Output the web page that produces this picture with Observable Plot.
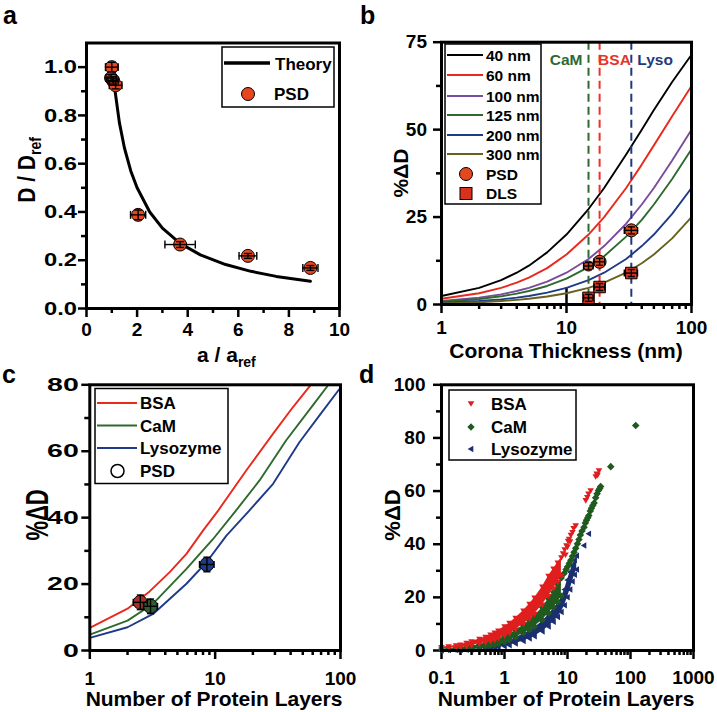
<!DOCTYPE html>
<html><head><meta charset="utf-8">
<script src="https://cdn.jsdelivr.net/npm/d3@7"></script>
<script src="https://cdn.jsdelivr.net/npm/@observablehq/plot@0.6"></script>
<style>
body{margin:0;background:#fff;}
#fig{position:relative;width:717px;height:712px;}
#fig svg{position:absolute;left:0;top:0;}
</style></head><body><div id="fig"></div>
<script>
// ---------- Panel a ----------
const aPsdX = [1.0, 0.97, 1.05, 1.15, 2.04, 3.70, 6.38, 8.85];
const aPsdY = [1.0, 0.955, 0.945, 0.925, 0.388, 0.265, 0.218, 0.168];
const aPsdXErr = [0.25, 0.2, 0.2, 0.25, 0.3, 0.6, 0.35, 0.3];
const aPsdYErr = [0.02, 0.015, 0.015, 0.015, 0.02, 0.012, 0.01, 0.01];
const aTheoryX = [1.13, 1.3, 1.5, 1.75, 2.0, 2.5, 3.0, 3.7, 4.5, 5.5, 6.5, 7.5, 8.85];
const aTheoryY = [0.90, 0.77, 0.665, 0.57, 0.50, 0.40, 0.333, 0.27, 0.222, 0.182, 0.154, 0.133, 0.113];

// ---------- Panel b ----------
const bThick = [1, 2, 3, 4, 5, 7, 10, 15, 20, 30, 40, 50, 70, 100];
const bSizes = ["40 nm", "60 nm", "100 nm", "125 nm", "200 nm", "300 nm"];
const b40  = [2.44, 4.76, 6.98, 9.09, 11.1, 14.9, 20.0, 27.3, 33.3, 42.9, 50.0, 55.6, 63.6, 71.4];
const b60  = [1.64, 3.23, 4.76, 6.25, 7.69, 10.4, 14.3, 20.0, 25.0, 33.3, 40.0, 45.5, 53.8, 62.5];
const b100 = [0.99, 1.96, 2.91, 3.85, 4.76, 6.54, 9.09, 13.0, 16.7, 23.1, 28.6, 33.3, 41.2, 50.0];
const b125 = [0.79, 1.57, 2.34, 3.10, 3.85, 5.30, 7.41, 10.7, 13.8, 19.4, 24.2, 28.6, 35.9, 44.4];
const b200 = [0.50, 0.99, 1.48, 1.96, 2.44, 3.38, 4.76, 6.98, 9.09, 13.0, 16.7, 20.0, 25.9, 33.3];
const b300 = [0.33, 0.66, 0.99, 1.32, 1.64, 2.28, 3.23, 4.76, 6.25, 9.09, 11.8, 14.3, 18.9, 25.0];
const bColors = ["#000000", "#e8291c", "#7b4b9e", "#2e6a2e", "#1f3a88", "#67611f"];
const bPsdX = [15, 18.4, 33];
const bPsdY = [11.0, 12.2, 21.2];
const bPsdXErr = [1.3, 1.8, 4.0];
const bDlsX = [15, 18.4, 33];
const bDlsY = [1.9, 5.0, 9.0];
const bDlsXErr = [1.3, 1.8, 4.0];
const bProteinNames = ["CaM", "BSA", "Lyso"];
const bProteinX = [15, 18.4, 33];
const bProteinColors = ["#2e6a2e", "#e8322a", "#1f3a7a"];

// ---------- Panel c ----------
const cNames = ["BSA", "CaM", "Lysozyme"];
const cColors = ["#e8291c", "#2e6a2e", "#1f3a88"];
const cBsaX  = [1, 2, 3, 4.34, 5.9, 8, 10.6, 17.7, 29, 41.8, 57.5];
const cBsaY  = [6.8, 12.6, 17.8, 23.6, 29.1, 36.1, 42.2, 54.2, 65.3, 73.3, 79.8];
const cCamX  = [1, 2, 3.2, 5.9, 9.6, 14.7, 22.6, 36.9, 60.1, 79.3];
const cCamY  = [4.8, 9.0, 14.1, 24.6, 33.5, 42.2, 51.2, 63.3, 73.8, 79.8];
const cLysoX = [1, 2, 3.2, 5.9, 8.5, 12.3, 18.8, 29, 47, 68, 98.4];
const cLysoY = [3.8, 7.0, 11.0, 20.1, 26.5, 34.6, 42.2, 50.2, 62.7, 70.8, 78.8];
const cPsdX = [2.53, 3.05, 8.6];
const cPsdY = [14.5, 13.3, 25.9];
const cPsdXLo = [2.22, 2.68, 7.5];
const cPsdXHi = [2.88, 3.47, 9.8];
const cPsdYErr = [2.2, 2.2, 2.2];
const cPsdColors = ["#a8302a", "#2e5e2e", "#1f3c8a"];

// ---------- Panel d ----------
const dNames = ["BSA", "CaM", "Lysozyme"];
const dColors = ["#e01e1e", "#1f5a1f", "#1b2f70"];
const dX       = [0.1, 0.13, 0.17, 0.2, 0.25, 0.3, 0.4, 0.5, 0.6, 0.7, 0.8, 1, 1.2, 1.5, 2, 2.5, 3, 4, 5, 6, 7, 8];
const dBsaTop  = [1.2, 1.5, 1.9, 2.2, 2.8, 3.4, 4.3, 5.1, 5.9, 6.7, 7.4, 9.0, 10.3, 12.2, 15.0, 17.5, 19.8, 24.0, 28.0, 30.8, 33.0, 35.0];
const dBsaBot  = [0.6, 0.8, 1.0, 1.2, 1.5, 1.9, 2.5, 3.0, 3.5, 4.0, 4.5, 5.6, 6.5, 7.9, 10.0, 11.9, 13.7, 17.2, 20.5, 23.3, 25.8, 28.0];
const dCamTop  = [0.5, 0.7, 0.9, 1.0, 1.3, 1.7, 2.2, 2.7, 3.2, 3.6, 4.1, 5.2, 6.0, 7.5, 9.5, 11.2, 12.9, 16.2, 19.5, 22.0, 24.8, 27.3];
const dCamBot  = [0.3, 0.4, 0.5, 0.6, 0.7, 0.9, 1.3, 1.6, 1.9, 2.2, 2.6, 3.3, 4.0, 5.0, 6.5, 7.7, 9.0, 11.5, 14.0, 16.2, 18.2, 20.5];
const dLysoX   = [0.1, 0.13, 0.17, 0.2, 0.25, 0.3, 0.4, 0.5, 0.6, 0.7, 0.8, 1, 1.2, 1.5, 2, 2.5, 3, 4, 5, 6, 7, 8, 9, 10, 11, 12, 13, 14];
const dLysoTop = [0.3, 0.4, 0.5, 0.6, 0.7, 0.9, 1.2, 1.5, 1.8, 2.1, 2.5, 3.2, 3.8, 4.8, 6.2, 7.4, 8.6, 11.0, 13.5, 15.7, 17.7, 20.0, 23.0, 26.5, 29.5, 32.0, 34.0, 35.7];
const dLysoBot = [0.1, 0.15, 0.2, 0.25, 0.3, 0.4, 0.55, 0.7, 0.85, 1.0, 1.2, 1.6, 2.0, 2.6, 3.6, 4.5, 5.4, 7.2, 9.0, 10.8, 12.6, 14.5, 17.0, 20.0, 23.0, 26.0, 28.5, 30.5];
const dBsaOutX = [8.5, 9, 9.3, 9.6, 10, 10.2, 10.6, 11, 11.3, 12, 12.5, 13.5, 19.5, 20.6, 21.5, 23.3, 28, 29, 30, 31.6];
const dBsaOutY = [36.5, 38, 36, 39.5, 39, 41.2, 42, 41, 43.5, 44.5, 46, 47, 56.5, 57.7, 59, 60.2, 65.5, 66.5, 66, 67.7];
const dCamChainX = [8.8, 9.5, 10, 10.7, 11.3, 12, 12.7, 13.5, 14.4, 15.2, 16, 17, 18.3, 19.2, 20, 21, 21.8, 23, 24, 25.2, 26.5, 28, 29.5, 31, 32.5, 33.6, 48.6, 121];
const dCamChainY = [29, 30.5, 31.5, 32.8, 34, 35.5, 37, 38.5, 40.2, 41.8, 43.5, 45, 46.4, 48, 49, 50, 50.8, 52.5, 53.5, 54.6, 55.5, 57.5, 59, 60.2, 61, 61.7, 69.2, 84.7];
const dLysoOutX = [18.3, 21.8];
const dLysoOutY = [39.5, 43.9];

// ---------- helpers ----------
const W = 717, H = 712;
const FONT = '"Liberation Sans", Arial, Helvetica, sans-serif';
const fig = document.getElementById("fig");
const baseStyle = {background: "transparent", overflow: "visible", fontFamily: FONT, color: "black"};
const vcap = {draw(ctx, size) { const h = Math.sqrt(size) / 2; ctx.moveTo(0, -h); ctx.lineTo(0, h); }};
const hcap = {draw(ctx, size) { const h = Math.sqrt(size) / 2; ctx.moveTo(-h, 0); ctx.lineTo(h, 0); }};
const triDown = {draw(ctx, size) { const h = Math.sqrt(size) / 2; ctx.moveTo(-h * 1.15, -h * 0.8); ctx.lineTo(h * 1.15, -h * 0.8); ctx.lineTo(0, h * 1.15); ctx.closePath(); }};
const triLeft = {draw(ctx, size) { const h = Math.sqrt(size) / 2; ctx.moveTo(-h * 1.15, 0); ctx.lineTo(h * 0.8, -h * 1.15); ctx.lineTo(h * 0.8, h * 1.15); ctx.closePath(); }};

function axisMarks(o) {
  return [
    Plot.axisX(o.xMajor, {anchor: "bottom", tickSize: 9, tickPadding: o.xPad, strokeWidth: 2.5, fontSize: 19, fontWeight: "bold", tickFormat: o.xFmt, label: null}),
    Plot.axisX(o.xMinor, {anchor: "bottom", tickSize: 5, strokeWidth: 2.5, tickFormat: () => "", label: null}),
    Plot.axisY(o.yMajor, {anchor: "left", tickSize: 8, tickPadding: o.yPad, strokeWidth: 2.5, fontSize: 19, fontWeight: "bold", tickFormat: o.yFmt, label: null}),
    Plot.axisY(o.yMinor, {anchor: "left", tickSize: 5, strokeWidth: 2.5, tickFormat: () => "", label: null})
  ];
}
function addPlot(opts, stretch) {
  const el = Plot.plot(opts);
  fig.appendChild(el);
  if (stretch && stretch !== 1) {
    d3.select(el).selectAll('g[aria-label="y-axis tick label"] text').each(function () {
      if (!this.textContent) return;
      const L = this.getComputedTextLength();
      this.setAttribute("textLength", L * stretch);
      this.setAttribute("lengthAdjust", "spacingAndGlyphs");
    });
  }
  return el;
}
function errMarks(rows, capR) {
  const c = {stroke: "black", fill: "none", strokeWidth: 1.4};
  return [
    Plot.ruleY(rows, {y: "y", x1: "x1", x2: "x2", stroke: "black", strokeWidth: 1.4}),
    Plot.ruleX(rows, {x: "x", y1: "y1", y2: "y2", stroke: "black", strokeWidth: 1.4}),
    Plot.dot(rows, {x: "x1", y: "y", symbol: vcap, r: capR, ...c}),
    Plot.dot(rows, {x: "x2", y: "y", symbol: vcap, r: capR, ...c}),
    Plot.dot(rows, {x: "x", y: "y1", symbol: hcap, r: capR, ...c}),
    Plot.dot(rows, {x: "x", y: "y2", symbol: hcap, r: capR, ...c})
  ];
}

// ---------- Panel a plot ----------
const aPsd = aPsdX.map((x, i) => ({x, y: aPsdY[i], x1: x - aPsdXErr[i], x2: x + aPsdXErr[i], y1: aPsdY[i] - aPsdYErr[i], y2: aPsdY[i] + aPsdYErr[i]}));
const aTheory = aTheoryX.map((x, i) => ({x, y: aTheoryY[i]}));
addPlot({
  width: W, height: H, marginLeft: 86, marginRight: W - 339, marginTop: 42.5, marginBottom: H - 308,
  x: {type: "linear", domain: [0, 10]}, y: {type: "linear", domain: [0, 1.1]},
  style: baseStyle,
  marks: [
    ...axisMarks({xMajor: [0, 2, 4, 6, 8, 10], xMinor: [1, 3, 5, 7, 9], yMajor: [0, 0.2, 0.4, 0.6, 0.8, 1.0], yMinor: [0.1, 0.3, 0.5, 0.7, 0.9],
      xFmt: d => String(d), yFmt: d => d.toFixed(1), xPad: 5, yPad: 1.5}),
    Plot.line(aTheory, {x: "x", y: "y", stroke: "black", strokeWidth: 3}),
    Plot.dot(aPsd, {x: "x", y: "y", r: 6.5, fill: "#e8461e", stroke: "black", strokeWidth: 1}),
    ...errMarks(aPsd, 4.5),
    Plot.frame({strokeWidth: 3})
  ]
}, 1.25);

// ---------- Panel b plot ----------
const bSeries = [b40, b60, b100, b125, b200, b300];
const bRows = bSeries.flatMap((arr, i) => bThick.map((t, j) => ({t, v: arr[j], size: bSizes[i], c: bColors[i]})));
const bPsd = bPsdX.map((x, i) => ({x, y: bPsdY[i], x1: x - bPsdXErr[i], x2: x + bPsdXErr[i], y1: bPsdY[i] - 1, y2: bPsdY[i] + 1}));
const bDls = bDlsX.map((x, i) => ({x, y: bDlsY[i], x1: x - bDlsXErr[i], x2: x + bDlsXErr[i], y1: bDlsY[i] - 1, y2: bDlsY[i] + 1}));
const bRules = bProteinX.map((x, i) => ({x, c: bProteinColors[i], name: bProteinNames[i]}));
addPlot({
  width: W, height: H, marginLeft: 441, marginRight: W - 691, marginTop: 41.7, marginBottom: H - 304,
  x: {type: "log", domain: [1, 100]}, y: {type: "linear", domain: [0, 75]},
  color: {type: "identity"},
  style: baseStyle,
  marks: [
    ...axisMarks({xMajor: [1, 10, 100], xMinor: [2, 3, 4, 5, 6, 7, 8, 9, 20, 30, 40, 50, 60, 70, 80, 90], yMajor: [0, 25, 50, 75], yMinor: [12.5, 37.5, 62.5],
      xFmt: d => String(d), yFmt: d => String(d), xPad: 7, yPad: 6.5}),
    Plot.ruleX([10], {x: d => d, y1: 0, y2: 4.8, stroke: "black", strokeWidth: 2.5}),
    Plot.line(bRows, {x: "t", y: "v", z: "size", stroke: "c", strokeWidth: 1.9}),
    Plot.ruleX(bRules, {x: "x", stroke: "c", strokeWidth: 2, strokeDasharray: "8,5"}),
    Plot.text(bRules.slice(0, 1), {x: "x", y: 69.9, text: "name", fill: "c", textAnchor: "end", dx: -6, fontSize: 15.5, fontWeight: "bold"}),
    Plot.text(bRules.slice(1, 2), {x: "x", y: 69.9, text: "name", fill: "c", textAnchor: "start", dx: -1.5, fontSize: 15.5, fontWeight: "bold"}),
    Plot.text(bRules.slice(2, 3), {x: "x", y: 69.9, text: "name", fill: "c", textAnchor: "start", dx: 6, fontSize: 15.5, fontWeight: "bold"}),
    Plot.dot(bPsd.slice(0, 1), {x: "x", y: "y", r: 5, fill: "#e5481c", stroke: "black", strokeWidth: 1}),
    Plot.dot(bPsd.slice(1), {x: "x", y: "y", r: 6.5, fill: "#e5481c", stroke: "black", strokeWidth: 1}),
    Plot.dot(bDls, {x: "x", y: "y", r: 6.5, symbol: "square", fill: "#d8321e", stroke: "black", strokeWidth: 1}),
    ...errMarks(bPsd, 4),
    ...errMarks(bDls, 4),
    Plot.frame({strokeWidth: 3})
  ]
}, 1);

// ---------- Panel c plot ----------
const cXs = [cBsaX, cCamX, cLysoX], cYs = [cBsaY, cCamY, cLysoY];
const cRows = cXs.flatMap((xs, i) => xs.map((x, j) => ({x, y: cYs[i][j], name: cNames[i], c: cColors[i]})));
const cPsd = cPsdX.map((x, i) => ({x, y: cPsdY[i], x1: cPsdXLo[i], x2: cPsdXHi[i], y1: cPsdY[i] - cPsdYErr[i], y2: cPsdY[i] + cPsdYErr[i], c: cPsdColors[i]}));
addPlot({
  width: W, height: H, marginLeft: 89.3, marginRight: W - 340, marginTop: 384.3, marginBottom: H - 650,
  x: {type: "log", domain: [1, 100]}, y: {type: "linear", domain: [0, 80]},
  color: {type: "identity"},
  style: baseStyle,
  marks: [
    ...axisMarks({xMajor: [1, 10, 100], xMinor: [2, 3, 4, 5, 6, 7, 8, 9, 20, 30, 40, 50, 60, 70, 80, 90], yMajor: [0, 20, 40, 60, 80], yMinor: [10, 30, 50, 70],
      xFmt: d => String(d), yFmt: d => String(d), xPad: 11.5, yPad: 3}),
    Plot.line(cRows, {x: "x", y: "y", z: "name", stroke: "c", strokeWidth: 1.9, clip: true}),
    Plot.dot(cPsd, {x: "x", y: "y", r: 7, fill: "c", stroke: "black", strokeWidth: 1}),
    ...errMarks(cPsd, 4),
    Plot.frame({strokeWidth: 3})
  ]
}, 1.5);

// ---------- Panel d plot ----------
const dBsa = dX.map((x, i) => ({x, lo: dBsaBot[i], hi: dBsaTop[i]}));
const dCam = dX.map((x, i) => ({x, lo: dCamBot[i], hi: dCamTop[i]}));
const dLyso = dLysoX.map((x, i) => ({x, lo: dLysoBot[i], hi: dLysoTop[i]}));
const dBsaOut = dBsaOutX.map((x, i) => ({x, y: dBsaOutY[i]}));
const dCamChain = dCamChainX.map((x, i) => ({x, y: dCamChainY[i]}));
const dLysoOut = dLysoOutX.map((x, i) => ({x, y: dLysoOutY[i]}));
function band(rows, color, symbol) {
  return [
    Plot.areaY(rows, {x: "x", y1: "lo", y2: "hi", fill: color, curve: "linear"}),
    Plot.dot(rows, {x: "x", y: "hi", symbol, r: 3.2, fill: color}),
    Plot.dot(rows, {x: "x", y: "lo", symbol, r: 3.2, fill: color})
  ];
}
addPlot({
  width: W, height: H, marginLeft: 441, marginRight: W - 693, marginTop: 384.3, marginBottom: H - 650,
  x: {type: "log", domain: [0.1, 1000]}, y: {type: "linear", domain: [0, 100]},
  style: baseStyle,
  marks: [
    ...axisMarks({xMajor: [0.1, 1, 10, 100, 1000], xMinor: [0.2, 0.3, 0.4, 0.5, 0.6, 0.7, 0.8, 0.9, 2, 3, 4, 5, 6, 7, 8, 9, 20, 30, 40, 50, 60, 70, 80, 90, 200, 300, 400, 500, 600, 700, 800, 900],
      yMajor: [0, 20, 40, 60, 80, 100], yMinor: [10, 30, 50, 70, 90],
      xFmt: d => String(d), yFmt: d => String(d), xPad: 11, yPad: 8}),
    ...band(dLyso, dColors[2], triLeft),
    Plot.dot(dLysoOut, {x: "x", y: "y", symbol: triLeft, r: 3.2, fill: dColors[2]}),
    ...band(dCam, dColors[1], "diamond2"),
    Plot.dot(dCamChain, {x: "x", y: "y", symbol: "diamond2", r: 3.4, fill: dColors[1]}),
    ...band(dBsa, dColors[0], triDown),
    Plot.dot(dBsaOut, {x: "x", y: "y", symbol: triDown, r: 3.2, fill: dColors[0]}),
    Plot.frame({strokeWidth: 3})
  ]
}, 1);

// ---------- Overlay: panel letters, axis titles, legends ----------
const ov = d3.select(fig).append("svg").attr("width", W).attr("height", H)
  .style("font-family", FONT).style("font-weight", "bold");
function text(x, y, s, o = {}) {
  const t = ov.append("text").attr("x", x).attr("y", y).attr("font-size", o.size || 17)
    .attr("text-anchor", o.anchor || "start").attr("fill", o.fill || "black").text(s);
  if (o.transform) t.attr("transform", o.transform).attr("x", 0).attr("y", 0);
  return t;
}
// panel letters
[["a", 3, 24], ["b", 360, 24], ["c", 2, 383], ["d", 359, 383]].forEach(([s, x, y]) => text(x, y, s, {size: 25}));

// axis titles
const ta = ov.append("text").attr("transform", "translate(35,170) rotate(-90) scale(1,1.15)").attr("text-anchor", "middle").attr("font-size", 21);
ta.append("tspan").text("D / D");
ta.append("tspan").attr("font-size", 14).attr("dy", 5).text("ref");
const tax = ov.append("text").attr("x", 197).attr("y", 362).attr("font-size", 21);
tax.append("tspan").text("a / a");
tax.append("tspan").attr("font-size", 14).attr("dy", 5).text("ref");
text(0, 0, "%ΔD", {size: 21, anchor: "middle", transform: "translate(408,173) rotate(-90)"});
text(566, 358, "Corona Thickness (nm)", {size: 21, anchor: "middle"});
text(0, 0, "%ΔD", {size: 22, anchor: "middle", transform: "translate(48,515) rotate(-90) scale(1,1.45)"});
text(214, 706, "Number of Protein Layers", {size: 21, anchor: "middle"});
text(0, 0, "%ΔD", {size: 22, anchor: "middle", transform: "translate(400,515) rotate(-90)"});
text(566, 706, "Number of Protein Layers", {size: 21, anchor: "middle"});

// legend a
ov.append("rect").attr("x", 222).attr("y", 47).attr("width", 112).attr("height", 60).attr("fill", "white").attr("stroke", "black").attr("stroke-width", 1.5);
ov.append("line").attr("x1", 224).attr("x2", 270).attr("y1", 63).attr("y2", 63).attr("stroke", "black").attr("stroke-width", 3.5);
text(275, 70, "Theory", {size: 17});
ov.append("circle").attr("cx", 248).attr("cy", 94).attr("r", 6.5).attr("fill", "#e8461e").attr("stroke", "black");
text(274, 100, "PSD", {size: 17});

// legend b
ov.append("rect").attr("x", 445).attr("y", 44).attr("width", 96).attr("height", 160).attr("fill", "white").attr("stroke", "black").attr("stroke-width", 1.5);
const bRowY = [55, 75, 96, 115, 135, 154];
bSizes.forEach((s, i) => {
  ov.append("line").attr("x1", 447).attr("x2", 483).attr("y1", bRowY[i]).attr("y2", bRowY[i]).attr("stroke", bColors[i]).attr("stroke-width", 2);
  text(486, bRowY[i] + 5.5, s, {size: 15.5});
});
ov.append("circle").attr("cx", 466).attr("cy", 174).attr("r", 6.5).attr("fill", "#e5481c").attr("stroke", "black");
text(486, 179.5, "PSD", {size: 15.5});
ov.append("rect").attr("x", 460).attr("y", 187.5).attr("width", 12).attr("height", 12).attr("fill", "#d8321e").attr("stroke", "black");
text(486, 199, "DLS", {size: 15.5});

// legend c
ov.append("rect").attr("x", 95).attr("y", 388.5).attr("width", 133).attr("height", 95).attr("fill", "white").attr("stroke", "black").attr("stroke-width", 1.5);
const cRowY = [403, 425.5, 448];
cNames.forEach((s, i) => {
  ov.append("line").attr("x1", 97).attr("x2", 137).attr("y1", cRowY[i]).attr("y2", cRowY[i]).attr("stroke", cColors[i]).attr("stroke-width", 2);
  text(140, cRowY[i] + 6, s, {size: 17});
});
ov.append("circle").attr("cx", 117.5).attr("cy", 471).attr("r", 6.5).attr("fill", "white").attr("stroke", "black").attr("stroke-width", 1.5);
text(140, 477, "PSD", {size: 17});

// legend d
ov.append("rect").attr("x", 449).attr("y", 390).attr("width", 127).attr("height", 70).attr("fill", "white").attr("stroke", "black").attr("stroke-width", 1.5);
const dRowY = [403.5, 427, 449];
const dSyms = [triDown, d3.symbolDiamond2, triLeft];
dNames.forEach((s, i) => {
  ov.append("path").attr("transform", `translate(471,${dRowY[i]})`).attr("d", d3.symbol(dSyms[i], 34)()).attr("fill", dColors[i]);
  text(491, dRowY[i] + 6, s, {size: 17});
});
</script></body></html>
